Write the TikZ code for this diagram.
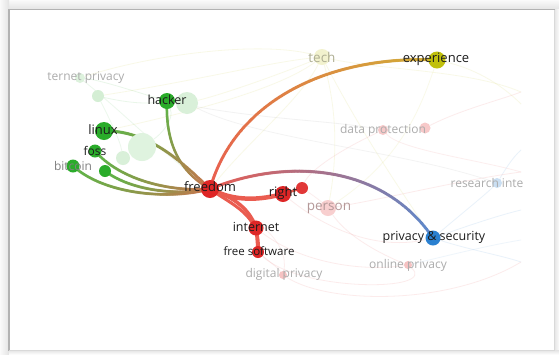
\documentclass[tikz,border=0pt]{standalone}
\usepackage{fontspec}
\setmainfont{Open Sans}
\usetikzlibrary{decorations.markings}
\pgfdeclarelayer{back}
\pgfdeclarelayer{edges}
\pgfsetlayers{back,edges,main}
\definecolor{vRed}{RGB}{222,38,38}
\definecolor{eRed}{RGB}{234,92,80}
\definecolor{eBrown}{RGB}{212,110,78}
\definecolor{vGreen}{RGB}{42,172,42}
\definecolor{eGreen}{RGB}{92,182,72}
\definecolor{vYel}{RGB}{192,192,12}
\definecolor{eGold}{RGB}{208,176,52}
\definecolor{vBlue}{RGB}{42,128,208}
\definecolor{eBlue}{RGB}{88,138,208}
\definecolor{lbl}{RGB}{28,28,28}
\definecolor{faintT}{RGB}{172,172,172}
\tikzset{
  vnode/.style={circle, inner sep=0pt, minimum size=#1},
  lab/.style={font=\fontsize{12.5}{14}\selectfont, text=lbl, inner sep=0pt},
  flab/.style={font=\fontsize{12}{14}\selectfont, text=faintT, inner sep=0pt},
  fedge/.style={line width=0.8pt, draw=#1, opacity=0.22},
  gedge/.style n args={4}{
    decoration={markings, mark=between positions 0 and 1 step 0.7pt with {
      \pgfmathparse{\pgfkeysvalueof{/pgf/decoration/mark info/distance from start}/\pgfdecoratedpathlength}
      \pgfmathsetmacro\gt{min(1,max(0.001,\pgfmathresult))}
      \pgfmathsetmacro\gp{min(100,max(0,100*(\gt^#4)))}
      \fill[#2!\gp!#1] (0,0) circle (#3);}},
    postaction={decorate}}
}
\begin{document}
\begin{tikzpicture}[x=1pt,y=-1pt]
\useasboundingbox (0,0) rectangle (559,354);
% ---------- frame ----------
\begin{pgfonlayer}{back}
\fill[white] (0,0) rectangle (559,354);
\shade[top color=gray!4, bottom color=gray!22] (0,0) rectangle (559,9.5);
\shade[left color=gray!4, right color=gray!22] (0,0) rectangle (9,354);
\shade[left color=gray!22, right color=gray!3] (554,9.5) rectangle (559,354);
\shade[top color=gray!22, bottom color=gray!3] (9,350) rectangle (559,354);
\fill[white] (9.5,10) rectangle (554,350);
\draw[gray!60, line width=1.2pt] (9,351) -- (9,9.8) -- (555,9.8);
\draw[gray!30, line width=0.8pt] (554.5,10) -- (554.5,350.5) -- (9,350.5);
\end{pgfonlayer}
% ---------- nodes ----------
\node[vnode=16pt, fill=vRed!22] (person) at (328,208) {};
\node[vnode=8pt, fill=vRed!28] (digital) at (283,275) {};
\node[vnode=8pt, fill=vRed!28] (online) at (408,265) {};
\node[vnode=10pt, fill=vRed!25] (dp1) at (383,130) {};
\node[vnode=11pt, fill=vRed!25] (dp2) at (425,128) {};
\node[vnode=10pt, fill=vBlue!25] (research) at (497,183) {};
\node[vnode=16pt, fill=vYel!20] (tech) at (322,57) {};
\node[vnode=10pt, fill=vGreen!16] (ternet) at (80,78) {};
\node[vnode=12pt, fill=vGreen!20] (g1) at (98,96) {};
\node[vnode=22pt, fill=vGreen!18] (hackerB) at (187,103) {};
\node[vnode=28pt, fill=vGreen!15] (gbig) at (142,147) {};
\node[vnode=14pt, fill=vGreen!18] (gsmall) at (123,158) {};
\node[vnode=18pt, fill=vRed] (freedom) at (210,189) {};
\node[vnode=16pt, fill=vRed] (right) at (283,194) {};
\node[vnode=12pt, fill=vRed!92!white] (right2) at (302,188) {};
\node[vnode=15pt, fill=vRed] (internet) at (256,228) {};
\node[vnode=12pt, fill=vRed] (freesw) at (258,252) {};
\node[vnode=15pt, fill=vBlue] (privsec) at (433,238) {};
\node[vnode=17pt, fill=vYel] (experience) at (437,60) {};
\node[vnode=16pt, fill=vGreen] (hacker) at (167,101) {};
\node[vnode=18pt, fill=vGreen] (linux) at (104,131) {};
\node[vnode=13pt, fill=vGreen] (foss) at (95,151) {};
\node[vnode=13pt, fill=vGreen] (bitcoin) at (73,166) {};
\node[vnode=12pt, fill=vGreen] (gdot) at (105,171) {};
% free ends of faint links at the right edge of the view
\coordinate (r1) at (521,92);
\coordinate (r2) at (521,104);
\coordinate (r3) at (521,150);
\coordinate (r4) at (521,172);
\coordinate (r5) at (521,210);
\coordinate (r6) at (521,262);
\coordinate (r7) at (521,240);
% ---------- links ----------
\begin{pgfonlayer}{edges}
% faint links
\draw[fedge=vYel!45] (tech) .. controls (260,40) and (150,55) .. (ternet);
\draw[fedge=vYel!45] (tech) .. controls (270,62) and (200,80) .. (g1);
\draw[fedge=vYel!45] (tech) .. controls (270,78) and (220,95) .. (hackerB);
\draw[fedge=vYel!45] (tech) .. controls (280,88) and (200,110) .. (linux);
\draw[fedge=vYel!45] (tech) .. controls (300,100) and (250,140) .. (freedom);
\draw[fedge=vYel!45] (tech) .. controls (380,70) and (470,70) .. (r1);
\draw[fedge=vYel!45] (tech) .. controls (340,120) and (335,170) .. (person);
\draw[fedge=vYel!45] (tech) .. controls (360,130) and (400,190) .. (privsec);
\draw[fedge=vYel!45] (experience) .. controls (480,70) and (505,88) .. (r2);
\draw[fedge=vYel!40] (experience) .. controls (420,110) and (400,160) .. (person);
\draw[fedge=vRed!40] (dp2) .. controls (460,110) and (500,100) .. (r1);
\draw[fedge=vRed!40] (dp1) .. controls (340,150) and (310,170) .. (right2);
\draw[fedge=gray!45] (hacker) .. controls (260,120) and (330,120) .. (dp1);
\draw[fedge=gray!40] (hackerB) .. controls (260,140) and (400,150) .. (research);
\draw[fedge=vRed!35] (dp1) .. controls (400,150) and (480,160) .. (r4);
\draw[fedge=vBlue!45] (privsec) .. controls (460,215) and (485,195) .. (research);
\draw[fedge=vBlue!45] (privsec) .. controls (470,225) and (500,215) .. (r5);
\draw[fedge=vBlue!45] (privsec) .. controls (470,250) and (500,255) .. (r6);
\draw[fedge=vBlue!45] (research) .. controls (505,170) and (512,158) .. (r3);
\draw[fedge=vBlue!35] (online) .. controls (450,255) and (490,245) .. (r7);
\draw[fedge=vRed!40] (person) .. controls (380,200) and (460,180) .. (r4);
\draw[fedge=vRed!40] (digital) .. controls (330,305) and (450,305) .. (r6);
\draw[fedge=vRed!40] (freesw) .. controls (300,292) and (440,292) .. (online);
\draw[fedge=vRed!40] (person) .. controls (350,240) and (390,258) .. (online);
\draw[fedge=vRed!40] (right) .. controls (330,232) and (380,250) .. (privsec);
\draw[fedge=vRed!40] (internet) .. controls (300,262) and (360,272) .. (online);
\draw[fedge=vRed!35] (freedom) .. controls (250,215) and (290,240) .. (digital);
\draw[fedge=vRed!35] (freesw) .. controls (270,262) and (278,268) .. (digital);
\draw[fedge=vRed!35] (right2) .. controls (320,200) and (325,205) .. (person);
\draw[fedge=vGreen!45] (hacker) .. controls (130,90) and (100,80) .. (ternet);
\draw[fedge=vGreen!45] (hacker) .. controls (140,105) and (115,100) .. (g1);
\draw[fedge=vGreen!45] (hacker) .. controls (175,120) and (160,135) .. (gbig);
\draw[fedge=vGreen!40] (g1) .. controls (110,120) and (120,140) .. (gsmall);
\draw[fedge=vGreen!40] (ternet) .. controls (120,110) and (160,150) .. (freedom);
% strong links
\path[gedge={eRed}{eGold}{1.6pt}{1}] (freedom.center) .. controls (235,100) and (330,55) .. (experience.center);
\path[gedge={eRed}{eBlue}{1.6pt}{1}] (freedom.center) .. controls (280,160) and (380,160) .. (privsec.center);
\path[gedge={eBrown}{eGreen}{1.4pt}{0.8}] (freedom.center) .. controls (185,175) and (165,150) .. (hacker.center);
\path[gedge={eBrown}{eGreen}{1.6pt}{0.8}] (freedom.center) .. controls (185,165) and (150,130) .. (linux.center);
\path[gedge={eBrown}{eGreen}{1.5pt}{0.8}] (freedom.center) .. controls (170,192) and (120,180) .. (foss.center);
\path[gedge={eBrown}{eGreen}{1.5pt}{0.8}] (freedom.center) .. controls (170,200) and (105,195) .. (bitcoin.center);
\path[gedge={eBrown}{eGreen}{1.5pt}{0.8}] (freedom.center) .. controls (175,196) and (130,190) .. (gdot.center);
\draw[eRed, line width=4.5pt] (freedom.center) .. controls (235,202) and (260,200) .. (right.center);
\draw[eRed, line width=2.5pt] (right.center) -- (right2.center);
\draw[eRed, line width=3.5pt] (freedom.center) .. controls (236,198) and (250,210) .. (internet.center);
\draw[eRed, line width=3pt] (freedom.center) .. controls (232,205) and (262,215) .. (freesw.center);
\draw[eRed, line width=3pt] (internet.center) -- (freesw.center);
\end{pgfonlayer}
% ---------- labels ----------
\node[flab] (ternetL) at (86,78) {ternet privacy};
\node[flab, font=\fontsize{13.5}{15}\selectfont, text=faintT!85!vYel] (techL) at (322,57) {tech};
\node[flab] (dpL) at (383,130) {data protection};
\node[flab, font=\fontsize{13.5}{15}\selectfont, text=faintT!85!vRed] (personL) at (329,208) {person};
\node[flab] (digitalL) at (284,274) {digital privacy};
\node[flab] (onlineL) at (408,265) {online privacy};
\node[flab] (researchL) at (487,183) {research inte};
\node[lab, font=\fontsize{13}{15}\selectfont] (freedomL) at (210,187) {freedom};
\node[lab, font=\fontsize{13}{15}\selectfont] (rightL) at (283,193) {right};
\node[lab] (internetL) at (256,227) {internet};
\node[lab, font=\fontsize{11.5}{14}\selectfont] (freeswL) at (259,251) {free software};
\node[lab] (privsecL) at (434,237) {privacy \& security};
\node[lab, font=\fontsize{13}{15}\selectfont] (experienceL) at (436,59) {experience};
\node[lab] (hackerL) at (167,100) {hacker};
\node[lab, font=\fontsize{13}{15}\selectfont] (linuxL) at (103,130) {linux};
\node[lab, font=\fontsize{12}{14}\selectfont] (fossL) at (95,151) {foss};
\node[flab, text=faintT!70!lbl] (bitcoinL) at (73,166) {bitcoin};
\end{tikzpicture}
\end{document}
